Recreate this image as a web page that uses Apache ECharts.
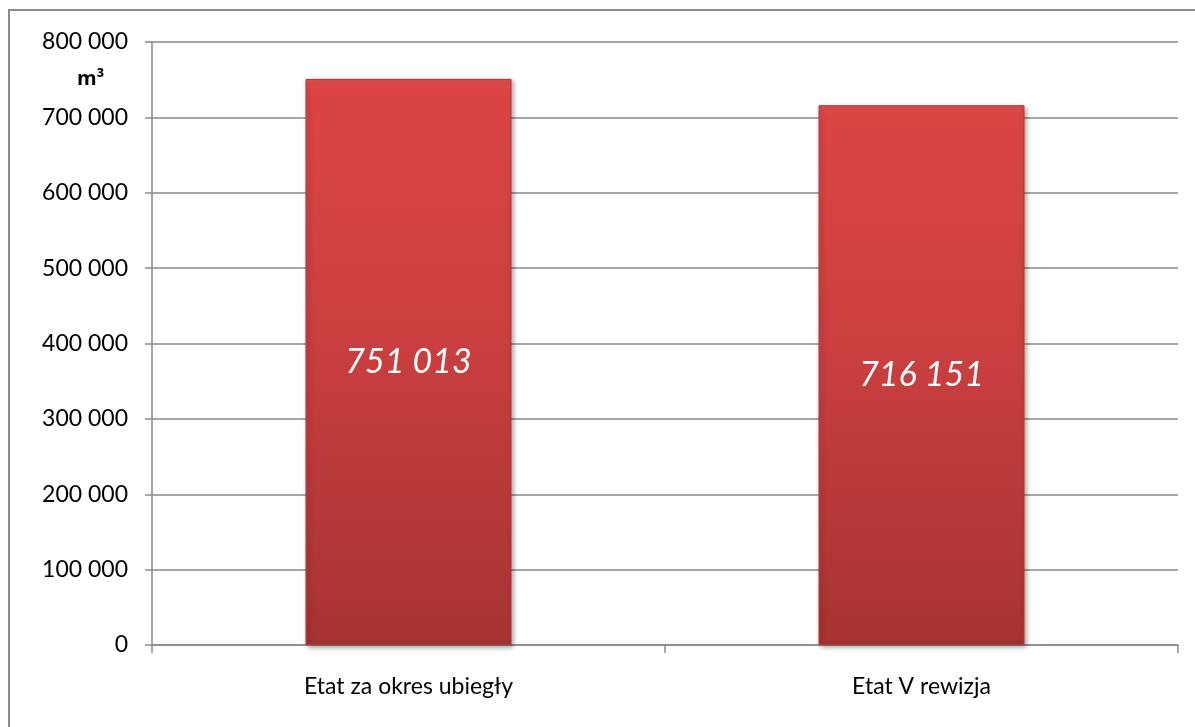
<!DOCTYPE html>
<html>
<head>
<meta charset="utf-8">
<script src="https://cdn.jsdelivr.net/npm/echarts@6/dist/echarts.min.js"></script>
<style>
  html, body { margin: 0; padding: 0; background: #ffffff; }
  #chart { width: 1195px; height: 727px; }
</style>
</head>
<body>
<div id="chart"></div>
<script>
// Allowable cut volume (m³): previous period vs. revision V
const categories = ['Etat za okres ubiegły', 'Etat V rewizja'];
const volumes = [751013, 716151];
const unitLabel = 'm³';

const fmt = v => String(Math.round(v)).replace(/\B(?=(\d{3})+(?!\d))/g, ' ');

const chart = echarts.init(document.getElementById('chart'));
const axisGrey = '#8a8a8a';
const font = 'Lato, "Open Sans", "Liberation Sans", sans-serif';

chart.setOption({
  animation: false,
  graphic: [
    {
      type: 'rect',
      shape: { x: 9, y: 10, width: 1200, height: 730 },
      style: { fill: 'none', stroke: axisGrey, lineWidth: 2 },
      z: 0
    },
    {
      type: 'text',
      left: 77, top: 69,
      style: { text: unitLabel, font: 'bold 20px "Open Sans", sans-serif', fill: '#000' }
    }
  ],
  grid: { left: 152, top: 42, right: 17, bottom: 82, containLabel: false },
  xAxis: {
    type: 'category',
    data: categories,
    axisLine: { lineStyle: { color: axisGrey, width: 1.5 } },
    axisTick: { show: true, length: 8, lineStyle: { color: axisGrey, width: 1.5 } },
    axisLabel: { color: '#000', fontSize: 23, fontFamily: font, margin: 30 }
  },
  yAxis: {
    type: 'value',
    min: 0, max: 800000, interval: 100000,
    axisLine: { show: true, lineStyle: { color: axisGrey, width: 1.5 } },
    axisTick: { show: true, length: 7, lineStyle: { color: axisGrey, width: 1.5 } },
    splitLine: { lineStyle: { color: axisGrey, width: 1.5 } },
    axisLabel: { color: '#000', fontSize: 23, fontFamily: font, margin: 24, formatter: fmt }
  },
  series: [{
    type: 'bar',
    data: volumes,
    barWidth: 206,
    itemStyle: {
      color: new echarts.graphic.LinearGradient(0, 0, 0, 1, [
        { offset: 0, color: '#e25050' },
        { offset: 0.02, color: '#dc4444' },
        { offset: 0.5, color: '#c83e3e' },
        { offset: 1, color: '#a63232' }
      ]),
      borderColor: '#b53636',
      borderWidth: 1,
      shadowColor: 'rgba(0,0,0,0.35)',
      shadowBlur: 5,
      shadowOffsetX: 2,
      shadowOffsetY: 2
    },
    label: {
      show: true,
      position: 'inside',
      formatter: p => fmt(p.value),
      color: '#ffffff',
      fontSize: 34,
      fontStyle: 'italic',
      fontFamily: font
    }
  }]
});
</script>
</body>
</html>
